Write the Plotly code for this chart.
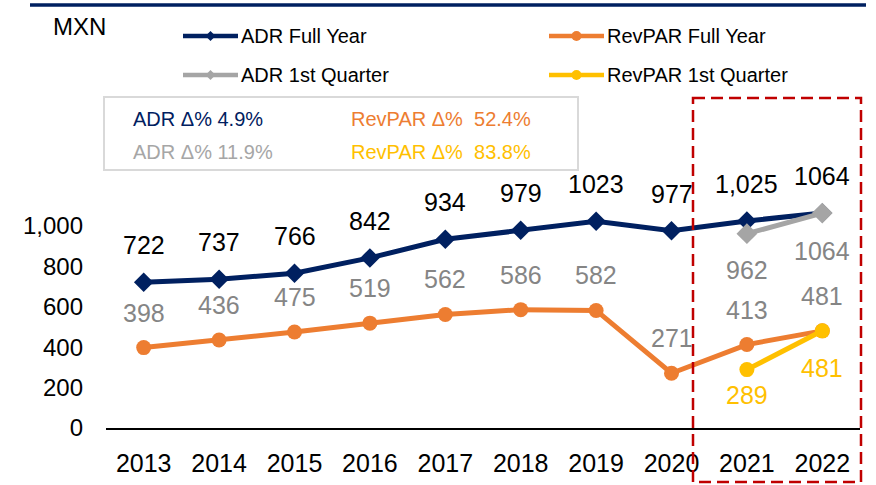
import plotly.graph_objects as go

# ---- data -------------------------------------------------------------
years = ["2013", "2014", "2015", "2016", "2017", "2018", "2019", "2020", "2021", "2022"]
adr_full = [722, 737, 766, 842, 934, 979, 1023, 977, 1025, 1064]
adr_full_labels = ["722", "737", "766", "842", "934", "979", "1023", "977", "1,025", "1064"]
revpar_full = [398, 436, 475, 519, 562, 586, 582, 271, 413, 481]
q_years = ["2021", "2022"]
adr_q1 = [962, 1064]
revpar_q1 = [289, 481]
y_ticks = [0, 200, 400, 600, 800, 1000]

summary_rows = [
    ("ADR \u0394% 4.9%", "RevPAR \u0394%  52.4%"),
    ("ADR \u0394% 11.9%", "RevPAR \u0394%  83.8%"),
]

# ---- style ------------------------------------------------------------
W, H = 876, 485
FONT = "Liberation Sans, Arial, sans-serif"
NAVY = "#002060"
ORANGE = "#ED7D31"
GREY = "#A5A5A5"
YELLOW = "#FFC000"
LABEL_GREY = "#858585"
RED = "#C00000"


def px(x):
    return x / W


def py(y):
    return 1 - y / H


# plot area in pixels
PL, PR, PB, PT = 106, 860, 428, 185.6

fig = go.Figure()

fig.add_trace(go.Scatter(x=years, y=adr_full, mode="lines+markers", name="ADR Full Year",
                         line=dict(color=NAVY, width=5),
                         marker=dict(symbol="diamond", size=15, color=NAVY),
                         cliponaxis=False))
fig.add_trace(go.Scatter(x=years, y=revpar_full, mode="lines+markers", name="RevPAR Full Year",
                         line=dict(color=ORANGE, width=5),
                         marker=dict(symbol="circle", size=15, color=ORANGE),
                         cliponaxis=False))
fig.add_trace(go.Scatter(x=q_years, y=adr_q1, mode="lines+markers", name="ADR 1st Quarter",
                         line=dict(color=GREY, width=5),
                         marker=dict(symbol="diamond", size=16, color=GREY),
                         cliponaxis=False))
fig.add_trace(go.Scatter(x=q_years, y=revpar_q1, mode="lines+markers", name="RevPAR 1st Quarter",
                         line=dict(color=YELLOW, width=5),
                         marker=dict(symbol="circle", size=15, color=YELLOW),
                         cliponaxis=False))

annotations = []


def value_labels(xs, texts, ys, color, shifts):
    for x, t, y, s in zip(xs, texts, ys, shifts):
        annotations.append(dict(x=years.index(x), y=y, xref="x", yref="y", text=t,
                                showarrow=False, yshift=s,
                                font=dict(family=FONT, size=25, color=color)))


value_labels(years, adr_full_labels, adr_full, "#000000", [37] * len(years))
value_labels(years, [str(v) for v in revpar_full], revpar_full, LABEL_GREY, [35] * len(years))
value_labels(q_years, [str(v) for v in adr_q1], adr_q1, LABEL_GREY, [-36, -38])
value_labels(q_years, [str(v) for v in revpar_q1], revpar_q1, YELLOW, [-25, -37])

# unit label
annotations.append(dict(x=px(51), y=py(26), xref="paper", yref="paper", text="MXN",
                        showarrow=False, xanchor="left", yanchor="middle",
                        font=dict(family=FONT, size=24, color="#000000")))

shapes = []

# top rule
shapes.append(dict(type="line", xref="paper", yref="paper", x0=px(30), x1=px(866),
                   y0=py(5), y1=py(5), line=dict(color=NAVY, width=3.5)))

# custom legend
legend_items = [
    ("ADR Full Year", NAVY, "diamond", 183, 36),
    ("RevPAR Full Year", ORANGE, "circle", 549, 36),
    ("ADR 1st Quarter", GREY, "diamond", 183, 75),
    ("RevPAR 1st Quarter", YELLOW, "circle", 549, 75),
]
for name, col, sym, lx, ly in legend_items:
    shapes.append(dict(type="line", xref="paper", yref="paper", x0=px(lx), x1=px(lx + 55),
                       y0=py(ly), y1=py(ly), line=dict(color=col, width=4.5)))
    cx = lx + 27.5
    r = 5
    if sym == "diamond":
        path = (f"M {px(cx - r)},{py(ly)} L {px(cx)},{py(ly - r)} "
                f"L {px(cx + r)},{py(ly)} L {px(cx)},{py(ly + r)} Z")
        shapes.append(dict(type="path", xref="paper", yref="paper", path=path,
                           fillcolor=col, line=dict(color=col, width=0)))
    else:
        shapes.append(dict(type="circle", xref="paper", yref="paper",
                           x0=px(cx - r), x1=px(cx + r), y0=py(ly - r), y1=py(ly + r),
                           fillcolor=col, line=dict(color=col, width=0)))
    annotations.append(dict(x=px(lx + 56), y=py(ly), xref="paper", yref="paper", text=name,
                            showarrow=False, xanchor="left", yanchor="middle",
                            font=dict(family=FONT, size=20, color="#000000")))

# summary box
shapes.append(dict(type="rect", xref="paper", yref="paper", x0=px(104), x1=px(578),
                   y0=py(97), y1=py(170), line=dict(color="#D9D9D9", width=2),
                   fillcolor="rgba(0,0,0,0)"))
row_y = [119, 152]
left_colors = [NAVY, "#A6A6A6"]
right_colors = [ORANGE, YELLOW]
for (lt, rt), ry, lc, rc in zip(summary_rows, row_y, left_colors, right_colors):
    annotations.append(dict(x=px(131), y=py(ry), xref="paper", yref="paper", text=lt,
                            showarrow=False, xanchor="left", yanchor="middle",
                            font=dict(family=FONT, size=20, color=lc)))
    annotations.append(dict(x=px(349), y=py(ry), xref="paper", yref="paper", text=rt,
                            showarrow=False, xanchor="left", yanchor="middle",
                            font=dict(family=FONT, size=20, color=rc)))

# highlight box around the latest two years
shapes.append(dict(type="rect", xref="paper", yref="paper", x0=px(693), x1=px(861),
                   y0=py(98), y1=py(482), line=dict(color=RED, width=2.5, dash="12px,6px"),
                   fillcolor="rgba(0,0,0,0)", layer="above"))

fig.update_layout(
    width=W, height=H,
    margin=dict(l=0, r=0, t=0, b=0, pad=0),
    paper_bgcolor="white", plot_bgcolor="white",
    showlegend=False,
    font=dict(family=FONT, size=25, color="#000000"),
    annotations=annotations,
    shapes=shapes,
    xaxis=dict(domain=[px(PL), px(PR)], type="category", range=[-0.5, 9.5], automargin=False,
               showgrid=False, zeroline=False, showline=True, linecolor="#000000", linewidth=1.5,
               ticks="", tickfont=dict(family=FONT, size=25, color="#000000"),
               ticklabelstandoff=12),
    yaxis=dict(domain=[py(PB), py(PT)], range=[0, 1200], tickvals=y_ticks, tickformat=",d",
               automargin=False,
               showgrid=False, zeroline=False, showline=False, ticks="",
               tickfont=dict(family=FONT, size=24, color="#000000"),
               ticklabelstandoff=22),
)

fig.write_html("out.html")
